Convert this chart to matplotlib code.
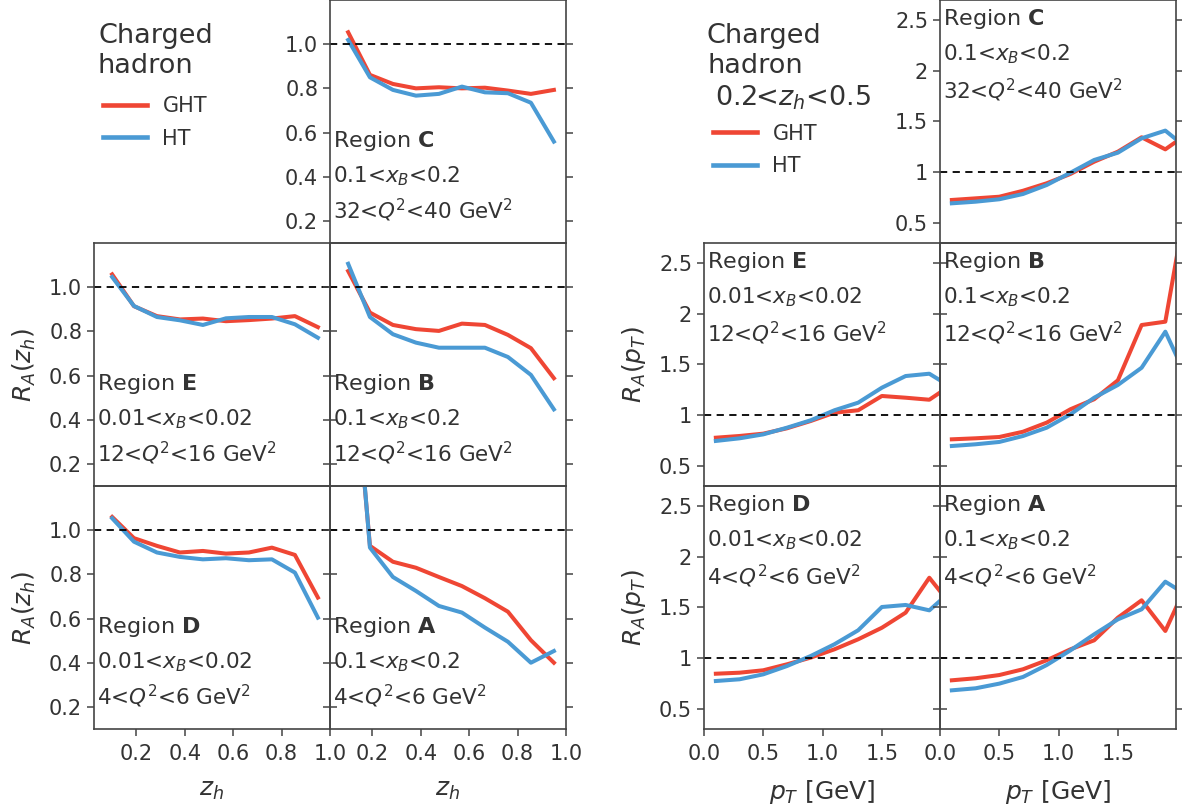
import numpy as np
import matplotlib.pyplot as plt
from matplotlib.lines import Line2D

plt.rcParams['mathtext.fontset'] = 'dejavusans'
plt.rcParams['text.color'] = '#333333'
plt.rcParams['axes.edgecolor'] = '#444444'
plt.rcParams['xtick.color'] = '#444444'
plt.rcParams['ytick.color'] = '#444444'
plt.rcParams['xtick.labelcolor'] = '#333333'
plt.rcParams['ytick.labelcolor'] = '#333333'
plt.rcParams['axes.labelcolor'] = '#333333'

RED = '#ef4634'
BLUE = '#4a9ad4'

# z_h binning
zh = [0.1, 0.19, 0.285, 0.38, 0.475, 0.57, 0.665, 0.76, 0.855, 0.95]
zh_C_ght = [1.054, 0.861, 0.820, 0.800, 0.805, 0.800, 0.803, 0.790, 0.775, 0.793]
zh_C_ht = [1.019, 0.850, 0.793, 0.767, 0.775, 0.808, 0.782, 0.778, 0.735, 0.559]
zh_E_ght = [1.058, 0.914, 0.869, 0.854, 0.858, 0.846, 0.851, 0.858, 0.869, 0.819]
zh_E_ht = [1.046, 0.915, 0.865, 0.850, 0.829, 0.859, 0.865, 0.865, 0.832, 0.771]
zh_B_ght = [1.073, 0.885, 0.829, 0.810, 0.802, 0.835, 0.829, 0.784, 0.724, 0.588]
zh_B_ht = [1.106, 0.865, 0.787, 0.749, 0.726, 0.726, 0.726, 0.684, 0.603, 0.447]
zh_D_ght = [1.060, 0.964, 0.929, 0.899, 0.906, 0.894, 0.899, 0.921, 0.888, 0.695]
zh_D_ht = [1.054, 0.948, 0.899, 0.879, 0.868, 0.873, 0.864, 0.868, 0.808, 0.604]
zh_A_ght = [2.05, 0.929, 0.857, 0.830, 0.788, 0.747, 0.692, 0.631, 0.502, 0.400]
zh_A_ht = [2.10, 0.921, 0.788, 0.725, 0.657, 0.627, 0.559, 0.495, 0.400, 0.453]

# p_T binning (0.2 < z_h < 0.5)
pt = [0.1, 0.3, 0.5, 0.7, 0.9, 1.1, 1.3, 1.5, 1.7, 1.9, 2.1]
pt_C_ght = [0.725, 0.741, 0.757, 0.816, 0.890, 0.982, 1.103, 1.202, 1.344, 1.225, 1.39]
pt_C_ht = [0.692, 0.708, 0.732, 0.784, 0.873, 0.994, 1.120, 1.192, 1.334, 1.410, 1.22]
pt_E_ght = [0.777, 0.794, 0.817, 0.870, 0.942, 1.024, 1.048, 1.189, 1.172, 1.152, 1.31]
pt_E_ht = [0.745, 0.771, 0.810, 0.876, 0.949, 1.048, 1.123, 1.271, 1.386, 1.409, 1.265]
pt_B_ght = [0.761, 0.771, 0.784, 0.836, 0.926, 1.058, 1.157, 1.344, 1.890, 1.923, 3.25]
pt_B_ht = [0.695, 0.712, 0.735, 0.794, 0.876, 1.008, 1.172, 1.298, 1.468, 1.824, 1.32]
pt_D_ght = [0.846, 0.856, 0.880, 0.939, 1.005, 1.087, 1.186, 1.300, 1.449, 1.794, 1.50]
pt_D_ht = [0.774, 0.791, 0.840, 0.922, 1.021, 1.137, 1.275, 1.505, 1.525, 1.472, 1.68]
pt_A_ght = [0.781, 0.801, 0.833, 0.890, 0.979, 1.087, 1.176, 1.400, 1.571, 1.268, 1.78]
pt_A_ht = [0.682, 0.702, 0.748, 0.814, 0.932, 1.077, 1.235, 1.383, 1.482, 1.755, 1.61]

region_text = {
    'C': ('C', r'0.1<$x_B$<0.2', r'32<$Q^2$<40 GeV$^2$'),
    'E': ('E', r'0.01<$x_B$<0.02', r'12<$Q^2$<16 GeV$^2$'),
    'B': ('B', r'0.1<$x_B$<0.2', r'12<$Q^2$<16 GeV$^2$'),
    'D': ('D', r'0.01<$x_B$<0.02', r'4<$Q^2$<6 GeV$^2$'),
    'A': ('A', r'0.1<$x_B$<0.2', r'4<$Q^2$<6 GeV$^2$'),
}

fig = plt.figure(figsize=(11.82, 8.09), dpi=100)

W = 236 / 1182
H = 243 / 809
cols_z = [94 / 1182, 330 / 1182]
cols_p = [704 / 1182, 940 / 1182]
rows = [0.69963, 0.39926, 0.09889]

TICK_FS = 15
TXT_FS = 15.5
LW = 2.9


def make_ax(x0, y0, show_ylab, show_xlab):
    ax = fig.add_axes([x0, y0, W, H])
    ax.patch.set_facecolor('none')
    for s in ax.spines.values():
        s.set_linewidth(1.2)
    ax.tick_params(axis='y', which='both', left=True, right=True, direction='out',
                   length=5, width=1.1, labelsize=TICK_FS, labelleft=show_ylab)
    ax.tick_params(axis='x', bottom=show_xlab, length=5, width=1.1, pad=6,
                   labelsize=TICK_FS, labelbottom=show_xlab)
    return ax


def annotate(ax, key, ys):
    r, l2, l3 = region_text[key]
    ax.text(0.012, ys[0], r'Region $\mathbf{%s}$' % r, transform=ax.transAxes,
            fontsize=TXT_FS + 0.5, va='center', ha='left')
    ax.text(0.012, ys[1], l2, transform=ax.transAxes, fontsize=TXT_FS, va='center', ha='left')
    ax.text(0.012, ys[2], l3, transform=ax.transAxes, fontsize=TXT_FS, va='center', ha='left')


def legend_block(x_title, x_handle, y_title, y_center, title):
    fig.text(x_title / 1182, 1 - y_title / 809, title, fontsize=19.5, va='top', ha='left',
             linespacing=1.2)
    handles = [Line2D([], [], color=RED, lw=LW + 0.4), Line2D([], [], color=BLUE, lw=LW + 0.4)]
    fig.legend(handles, ['GHT', 'HT'], loc='center left',
               bbox_to_anchor=(x_handle / 1182, 1 - y_center / 809),
               frameon=False, fontsize=15, handlelength=2.1, handletextpad=0.75,
               borderpad=0, borderaxespad=0, labelspacing=0.6)


# ---- z_h group ----
zh_panels = [
    ('C', 0, 1, zh_C_ght, zh_C_ht),
    ('E', 1, 0, zh_E_ght, zh_E_ht),
    ('B', 1, 1, zh_B_ght, zh_B_ht),
    ('D', 2, 0, zh_D_ght, zh_D_ht),
    ('A', 2, 1, zh_A_ght, zh_A_ht),
]
for key, r, c, ght, ht in zh_panels:
    show_y = (c == 0) or (r == 0)
    show_x = (r == 2)
    ax = make_ax(cols_z[c], rows[r], show_y, show_x)
    ax.plot(zh, ght, color=RED, lw=LW)
    ax.plot(zh, ht, color=BLUE, lw=LW)
    ax.axhline(1.0, color='black', ls='--', lw=1.3, dashes=(4, 3))
    ax.set_xlim(0.025, 1.0)
    ax.set_ylim(0.1, 1.2)
    ax.set_yticks([0.2, 0.4, 0.6, 0.8, 1.0])
    ax.set_yticklabels(['0.2', '0.4', '0.6', '0.8', '1.0'])
    ax.set_xticks([0.2, 0.4, 0.6, 0.8, 1.0])
    ax.set_xticklabels(['0.2', '0.4', '0.6', '0.8', '1.0'])
    if c == 0:
        ax.set_ylabel(r'$R_A(z_h)$', fontsize=18, labelpad=8)
    if show_x:
        ax.set_xlabel(r'$z_h$', fontsize=18, labelpad=10)
    annotate(ax, key, [0.42, 0.275, 0.135])

legend_block(98, 103, 23, 122.5, 'Charged\nhadron')

# ---- p_T group ----
pt_panels = [
    ('C', 0, 1, pt_C_ght, pt_C_ht),
    ('E', 1, 0, pt_E_ght, pt_E_ht),
    ('B', 1, 1, pt_B_ght, pt_B_ht),
    ('D', 2, 0, pt_D_ght, pt_D_ht),
    ('A', 2, 1, pt_A_ght, pt_A_ht),
]
for key, r, c, ght, ht in pt_panels:
    show_y = (c == 0) or (r == 0)
    show_x = (r == 2)
    ax = make_ax(cols_p[c], rows[r], show_y, show_x)
    ax.plot(pt, ght, color=RED, lw=LW)
    ax.plot(pt, ht, color=BLUE, lw=LW)
    ax.axhline(1.0, color='black', ls='--', lw=1.3, dashes=(4, 3))
    ax.set_xlim(0, 1.99)
    ax.set_ylim(0.3, 2.7)
    ax.set_yticks([0.5, 1, 1.5, 2, 2.5])
    ax.set_yticklabels(['0.5', '1', '1.5', '2', '2.5'])
    ax.set_xticks([0, 0.5, 1.0, 1.5])
    ax.set_xticklabels(['0.0', '0.5', '1.0', '1.5'])
    if c == 0:
        ax.set_ylabel(r'$R_A(p_T)$', fontsize=18, labelpad=8)
    if show_x:
        ax.set_xlabel(r'$p_T$ [GeV]', fontsize=18, labelpad=10)
    annotate(ax, key, [0.92, 0.775, 0.63])

legend_block(707, 713, 23, 150, 'Charged\nhadron\n 0.2<$z_h$<0.5')

fig.savefig('out.png', dpi=100)
